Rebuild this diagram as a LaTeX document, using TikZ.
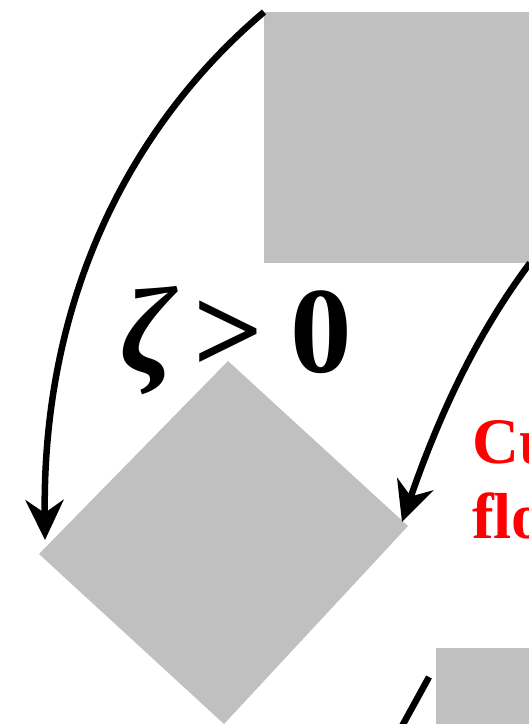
\documentclass[tikz,border=0pt]{standalone}
\usepackage{fontspec}
\setmainfont{Liberation Serif}
\usetikzlibrary{arrows.meta}
\definecolor{boxgray}{RGB}{192,192,192}

\begin{document}
\begin{tikzpicture}[x=1pt, y=-1pt,
    box/.style={fill=boxgray, draw=none, inner sep=0pt, anchor=north west},
    flow/.style={line width=6.5pt, -{Stealth[length=40pt, width=38pt, inset=13pt]}}]
    \useasboundingbox (0,0) rectangle (529,724);

    % Boxes
    \node[box, minimum width=320pt, minimum height=251pt] (topbox) at (264,12) {};
    \node[box, minimum width=120pt, minimum height=100pt] (lowbox) at (436,648) {};

    % Tilted zone
    \coordinate (zn) at (228,361);
    \coordinate (ze) at (408,526);
    \coordinate (zs) at (224,724);
    \coordinate (zw) at (39,554);
    \fill[boxgray] (zn) -- (ze) -- (zs) -- (zw) -- cycle;

    % Arrow ends
    \coordinate (rstart) at (530,263);
    \coordinate (tipw) at (45,540);
    \coordinate (tipe) at (402,522);
    \coordinate (lowstart) at (429,677);
    \coordinate (lowend) at (390,748);

    % Arrows
    \draw[flow] (topbox.north west) .. controls (149,109) and (42,275) .. (tipw);
    \draw[flow] (rstart) .. controls (470,343) and (434,430) .. (tipe);
    \draw[line width=6.5pt] (lowstart) -- (lowend);

    % Labels
    \node[anchor=base west, inner sep=0pt, font=\fontsize{123}{128}\selectfont] (cond) at (120,372) {{\bfseries\itshape ζ}\hspace{19pt}{\bfseries >}\hspace{27pt}{\bfseries 0}};
    \node[anchor=base west, align=left, inner sep=0pt, text=red, font=\bfseries\fontsize{65}{75}\selectfont] (note) at (472,538) {Cu\\flo};
\end{tikzpicture}
\end{document}
